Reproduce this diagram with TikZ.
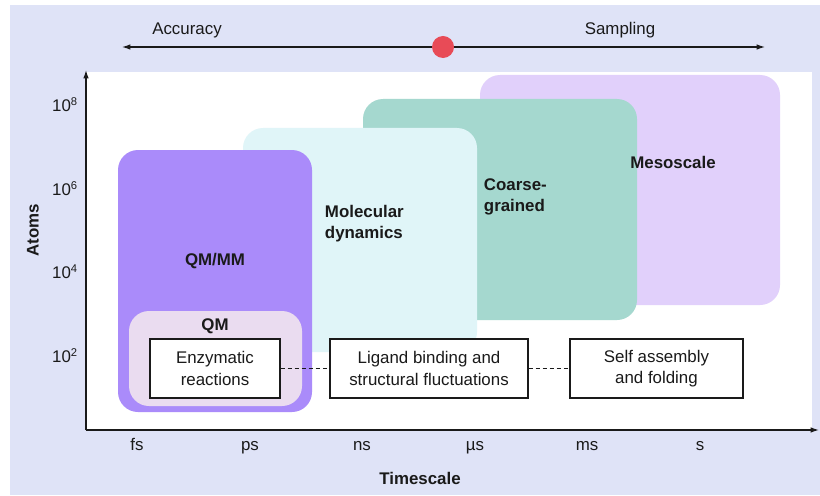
\documentclass[tikz,border=0pt]{standalone}
\usepackage{fontspec}
\setmainfont{Liberation Sans}
\usetikzlibrary{arrows.meta}

\definecolor{bgLav}{HTML}{DFE3F7}
\definecolor{inkDark}{HTML}{1A1A1A}
\definecolor{mesoFill}{HTML}{E1D0FB}
\definecolor{cgFill}{HTML}{A5D8CF}
\definecolor{mdFill}{HTML}{E0F5F8}
\definecolor{qmmmFill}{HTML}{AA8BFA}
\definecolor{qmFill}{HTML}{EADCF0}
\definecolor{dotRed}{HTML}{E84B57}

\begin{document}
\begin{tikzpicture}[
        x=0.025cm, y=0.025cm,
        font=\fontsize{12}{15}\selectfont,
        axis/.style={-{Latex[length=6pt,width=4pt]}, line width=0.9pt, draw=inkDark},
        region/.style={rounded corners=0.5cm},
        regionlabel/.style={font=\fontsize{12}{15}\selectfont\bfseries, text=inkDark, align=left},
        tick/.style={text=inkDark},
        eventbox/.style={draw=inkDark, line width=0.8pt, fill=white, text=inkDark,
            align=center, inner sep=0pt, minimum height=1.475cm},
        link/.style={draw=inkDark, line width=0.8pt, dash pattern=on 3pt off 2pt}
    ]
        \useasboundingbox (0,0) rectangle (820,495);

        % Background
        \fill[bgLav] (10,0) rectangle (820,490);
        \fill[white] (86,65) rectangle (812,423);

        % Accuracy / sampling balance
        \coordinate (accL) at (122,448);
        \coordinate (accR) at (765,448);
        \draw[{Latex[length=6pt,width=4pt]}-{Latex[length=6pt,width=4pt]}, line width=0.8pt, draw=inkDark] (accL) -- (accR);
        \node[circle, fill=dotRed, minimum size=0.55cm, inner sep=0pt] (balance) at (443,448) {};
        \node[tick] (accuracy) at (187,465) {Accuracy};
        \node[tick] (sampling) at (620,465) {Sampling};

        % Regions
        \fill[mesoFill, region] (480,190) rectangle (780,420);
        \fill[cgFill, region] (363,175) rectangle (637,396);
        \fill[mdFill, region] (243,143) rectangle (477,367);
        \fill[qmmmFill, region] (118,83) rectangle (312,345);
        \fill[qmFill, region] (129,89) rectangle (302,184);

        \node[regionlabel] (meso) at (673,333) {Mesoscale};
        \node[regionlabel, anchor=west] (cg) at (479,298) {Coarse-\\grained};
        \node[regionlabel, anchor=west] (md) at (320,271) {Molecular\\dynamics};
        \node[regionlabel] (qmmm) at (215,234) {QM/MM};
        \node[regionlabel] (qm) at (215,169) {QM};

        % Axes
        \coordinate (origin) at (86,65);
        \coordinate (ytop) at (86,425);
        \coordinate (xend) at (819,65);
        \draw[axis] (origin) -- (ytop);
        \draw[axis] (origin) -- (xend);

        \foreach \lbl/\yy in {8/390, 6/306, 4/223, 2/139}
            \node[tick] (y\lbl) at (65,\yy) {10\textsuperscript{\lbl}};
        \foreach \lbl/\xx [count=\i] in {fs/137, ps/250, ns/362, µs/475, ms/587, s/700}
            \node[tick, anchor=base] (t\i) at (\xx,45) {\lbl};

        \node[regionlabel, rotate=90] (atoms) at (33,265) {Atoms};
        \node[regionlabel] (timescale) at (420,17) {Timescale};

        % Processes
        \node[eventbox, minimum width=3.25cm] (enzyme) at (215,126.5) {Enzymatic\\reactions};
        \node[eventbox, minimum width=4.95cm] (ligand) at (429,126.5) {Ligand binding and\\structural fluctuations};
        \node[eventbox, minimum width=4.325cm] (selfasm) at (656.5,126.5) {Self assembly\\and folding};

        \draw[link] (enzyme.east) -- (ligand.west);
        \draw[link] (ligand.east) -- (selfasm.west);

    \end{tikzpicture}
\end{document}
